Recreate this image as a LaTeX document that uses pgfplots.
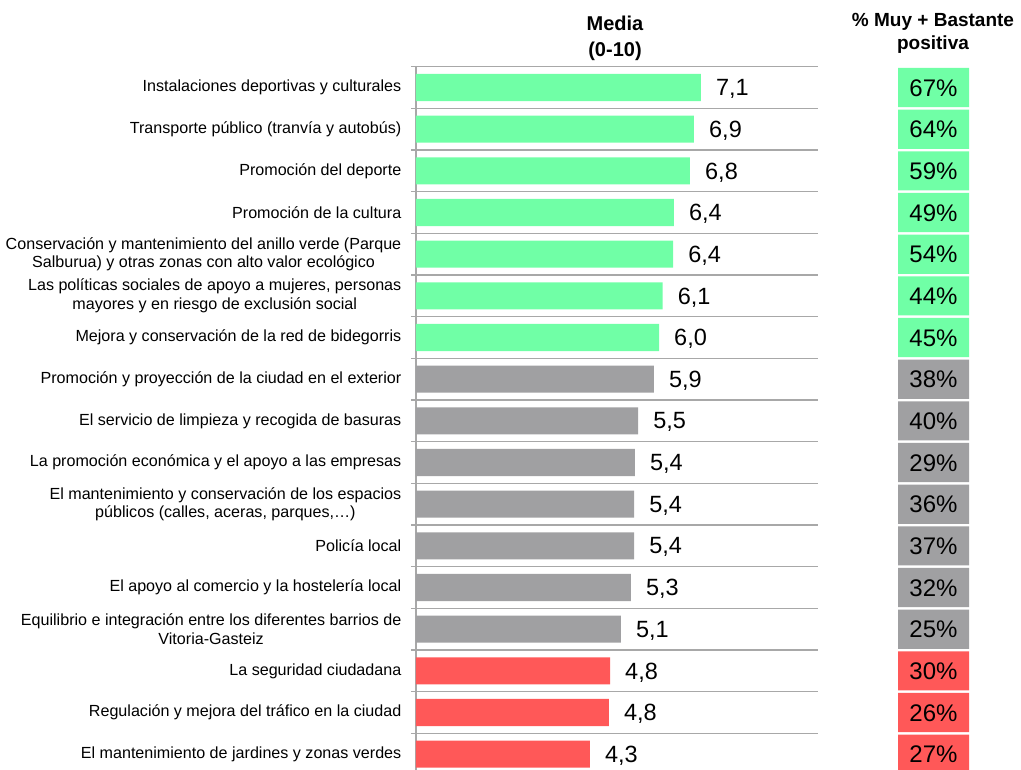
\documentclass[border=0pt]{standalone}
\usepackage{pgfplots}
\pgfplotsset{compat=1.18}
\usepackage{pgfplotstable}
\usepackage{fontspec}
\setmainfont{Liberation Sans}
\definecolor{cgreen}{RGB}{112,255,166}
\definecolor{cgray}{RGB}{160,160,162}
\definecolor{cred}{RGB}{255,88,88}
\definecolor{cgrid}{RGB}{168,168,168}

\pgfplotstableread{
idx val lab pct
0 7.09 7.1 67
1 6.92 6.9 64
2 6.82 6.8 59
3 6.42 6.4 49
4 6.40 6.4 54
5 6.14 6.1 44
6 6.05 6.0 45
}\greendata
\pgfplotstableread{
idx val lab pct
7 5.92 5.9 38
8 5.53 5.5 40
9 5.45 5.4 29
10 5.43 5.4 36
11 5.43 5.4 37
12 5.35 5.3 32
13 5.10 5.1 25
}\graydata
\pgfplotstableread{
idx val lab pct
14 4.83 4.8 30
15 4.80 4.8 26
16 4.33 4.3 27
}\reddata

\begin{document}
\begin{tikzpicture}
\useasboundingbox (0pt,0pt) rectangle (1021pt,770pt);
\begin{axis}[
  at={(416pt,703.3pt)}, anchor=north west,
  scale only axis, width=401.7pt, height=708.3pt,
  xbar, bar width=0.65, bar shift=0pt,
  xmin=0, xmax=10, ymin=-0.5, ymax=16.5, y dir=reverse,
  axis x line=none, axis y line=left,
  axis line style={-, draw=cgrid, line width=1.2pt},
  ytick={0,...,16},
  yticklabels={
    {Instalaciones deportivas y culturales},
    {Transporte público (tranvía y autobús)},
    {Promoción del deporte},
    {Promoción de la cultura},
    {Conservación y mantenimiento del anillo verde (Parque\\Salburua) y otras zonas con alto valor ecológico},
    {Las políticas sociales de apoyo a mujeres, personas\\mayores y en riesgo de exclusión social},
    {Mejora y conservación de la red de bidegorris},
    {Promoción y proyección de la ciudad en el exterior},
    {El servicio de limpieza y recogida de basuras},
    {La promoción económica y el apoyo a las empresas},
    {El mantenimiento y conservación de los espacios\\públicos (calles, aceras, parques,…)},
    {Policía local},
    {El apoyo al comercio y la hostelería local},
    {Equilibrio e integración entre los diferentes barrios de\\Vitoria-Gasteiz},
    {La seguridad ciudadana},
    {Regulación y mejora del tráfico en la ciudad},
    {El mantenimiento de jardines y zonas verdes}},
  major tick length=0pt,
  minor ytick={-0.5,0.5,...,16.5},
  yminorgrids, minor tick length=5pt, tick align=outside,
  minor grid style={draw=cgrid, line width=1.3pt},
  minor tick style={draw=cgrid, line width=1.3pt},
  yticklabel style={font=\fontsize{16.1}{18.5}\selectfont, align=center, anchor=east, inner sep=0pt, xshift=-14.5pt, text=black},
  point meta=explicit,
  nodes near coords={\pgfmathprintnumber[fixed,fixed zerofill,precision=1,use comma,assume math mode=true]{\pgfplotspointmeta}},
  nodes near coords style={anchor=west, inner sep=0pt, xshift=15pt, yshift=-1.5pt, font=\fontsize{23.5}{26}\selectfont, text=black},
  clip=false,
]
\addplot[fill=cgreen, draw=none] table[x=val, y=idx, meta=lab] {\greendata};
\addplot[fill=cgray, draw=none] table[x=val, y=idx, meta=lab] {\graydata};
\addplot[fill=cred, draw=none] table[x=val, y=idx, meta=lab] {\reddata};
\end{axis}

\begin{axis}[
  at={(898pt,703.3pt)}, anchor=north west,
  scale only axis, width=71pt, height=708.3pt,
  xmin=0, xmax=1, ymin=-0.5, ymax=16.5, y dir=reverse,
  hide axis,
  xbar, bar width=0.94, bar shift=0pt,
  point meta=explicit,
  nodes near coords={\pgfmathprintnumber[assume math mode=true]{\pgfplotspointmeta}\%},
  nodes near coords style={anchor=center, xshift=-35.5pt, yshift=-0.5pt, inner sep=0pt, font=\fontsize{24}{26}\selectfont, text=black},
  clip=false,
]
\addplot[fill=cgreen, draw=none] table[x expr=1, y=idx, meta=pct] {\greendata};
\addplot[fill=cgray, draw=none] table[x expr=1, y=idx, meta=pct] {\graydata};
\addplot[fill=cred, draw=none] table[x expr=1, y=idx, meta=pct] {\reddata};
\end{axis}

\node[anchor=base, font=\fontsize{20}{22}\selectfont\bfseries] at (615pt,739pt) {Media};
\node[anchor=base, font=\fontsize{20}{22}\selectfont\bfseries] at (615pt,713pt) {(0-10)};
\node[anchor=base, font=\fontsize{19}{22}\selectfont\bfseries] at (933pt,743pt) {\% Muy + Bastante};
\node[anchor=base, font=\fontsize{19}{22}\selectfont\bfseries] at (933pt,720pt) {positiva};
\end{tikzpicture}
\end{document}
